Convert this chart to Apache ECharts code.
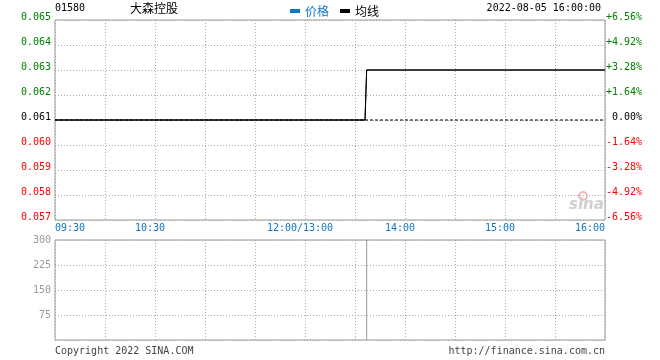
<!DOCTYPE html>
<html>
<head>
<meta charset="utf-8">
<script src="https://cdn.jsdelivr.net/npm/echarts@6/dist/echarts.min.js"></script>
<style>html,body{margin:0;padding:0;background:#fff}#c{width:660px;height:360px}</style>
</head>
<body>
<div id="c"></div>
<script>
// ---- data ----
const stockCode = '01580';
const stockName = '大森控股';
const stamp = '2022-08-05 16:00:00';
const prevClose = 0.061;
// minutes since 09:30 on a trading clock (lunch break removed)
const priceMinutes = [0, 186, 187, 330];
const priceValues = [0.061, 0.061, 0.063, 0.063];
const avgValues = [0.061, 0.061, 0.063, 0.063];
const refMinutes = [0, 330];
const refValues = [prevClose, prevClose];
const volMinutes = [187];
const volValues = [300];
// tick labels
const xTickMinutes = [0, 60, 150, 210, 270, 330];
const xTickLabels = ['09:30', '10:30', '12:00/13:00', '14:00', '15:00', '16:00'];
const priceTickLabels = ['0.057', '0.058', '0.059', '0.060', '0.061', '0.062', '0.063', '0.064', '0.065'];
const pctTickLabels = ['-6.56%', '-4.92%', '-3.28%', '-1.64%', '0.00%', '+1.64%', '+3.28%', '+4.92%', '+6.56%'];
const tickTone = ['r', 'r', 'r', 'r', 'k', 'g', 'g', 'g', 'g'];

const MONO = 'DejaVu Sans Mono';
const CJK = 'Noto Sans CJK SC';
const BLUE = '#0f76c6';
const GREEN = '#008000';
const RED = '#ff0000';
const GRIDC = '#aaaaaa';
const BORDER = '#999999';

const chart = echarts.init(document.getElementById('c'), null, {renderer: 'canvas'});

function pairs(xs, ys) { return xs.map((x, i) => [x, ys[i]]); }
function yIndex(v) { return Math.round((v - 0.057) * 1000); }

const toneRich = {
  g: {color: GREEN, fontFamily: MONO, fontSize: 10},
  k: {color: '#000', fontFamily: MONO, fontSize: 10},
  r: {color: RED, fontFamily: MONO, fontSize: 10}
};

const option = {
  animation: false,
  backgroundColor: '#fff',
  grid: [
    {left: 55, right: 55, top: 20, height: 200, show: true, borderColor: BORDER, borderWidth: 1, backgroundColor: 'transparent'},
    {left: 55, right: 55, top: 240, height: 100, show: true, borderColor: BORDER, borderWidth: 1, backgroundColor: 'transparent'}
  ],
  legend: {
    left: 285, top: 0, icon: 'rect', itemWidth: 10, itemHeight: 4, itemGap: 11,
    textStyle: {fontFamily: CJK, fontSize: 12},
    data: [
      {name: '价格', textStyle: {color: BLUE}, itemStyle: {color: BLUE}},
      {name: '均线', textStyle: {color: '#000'}, itemStyle: {color: '#000'}}
    ]
  },
  xAxis: [
    {
      type: 'value', gridIndex: 0, min: 0, max: 330, interval: 30,
      axisLine: {show: false}, axisTick: {show: false},
      splitLine: {show: true, lineStyle: {color: GRIDC, type: [1, 2], width: 1}},
      axisLabel: {
        show: true, margin: 3, showMinLabel: true, showMaxLabel: true,
        alignMinLabel: 'left', alignMaxLabel: 'right',
        formatter: function (v) {
          const i = xTickMinutes.indexOf(Math.round(v));
          if (i < 0) return '';
          if (i === 0 || i === xTickMinutes.length - 1) return '{e|' + xTickLabels[i] + '}';
          return '{c|' + xTickLabels[i] + '}';
        },
        rich: {
          e: {color: BLUE, fontFamily: MONO, fontSize: 10},
          c: {color: BLUE, fontFamily: MONO, fontSize: 10, padding: [0, 10, 0, 0]}
        }
      }
    },
    {
      type: 'value', gridIndex: 1, min: 0, max: 330, interval: 30,
      axisLine: {show: false}, axisTick: {show: false}, axisLabel: {show: false},
      splitLine: {show: true, lineStyle: {color: GRIDC, type: [1, 2], width: 1}}
    }
  ],
  yAxis: [
    {
      type: 'value', gridIndex: 0, min: 0.057, max: 0.065, interval: 0.001,
      axisLine: {show: false}, axisTick: {show: false},
      splitLine: {show: true, lineStyle: {color: GRIDC, type: [1, 2], width: 1}},
      axisLabel: {
        margin: 4, padding: [0, 0, 5, 0],
        formatter: function (v) { const i = yIndex(v); return '{' + tickTone[i] + '|' + priceTickLabels[i] + '}'; },
        rich: toneRich
      }
    },
    {
      type: 'value', gridIndex: 0, position: 'right', min: 0.057, max: 0.065, interval: 0.001,
      axisLine: {show: false}, axisTick: {show: false}, splitLine: {show: false},
      axisLabel: {
        margin: 37, align: 'right', padding: [0, 0, 5, 0],
        formatter: function (v) { const i = yIndex(v); return '{' + tickTone[i] + '|' + pctTickLabels[i] + '}'; },
        rich: toneRich
      }
    },
    {
      type: 'value', gridIndex: 1, min: 0, max: 300, interval: 75,
      axisLine: {show: false}, axisTick: {show: false},
      splitLine: {show: true, lineStyle: {color: GRIDC, type: [1, 2], width: 1}},
      axisLabel: {
        margin: 4, padding: [0, 0, 5, 0], showMinLabel: false,
        color: '#999', fontFamily: MONO, fontSize: 10
      }
    }
  ],
  series: [
    {
      name: '昨收', type: 'line', xAxisIndex: 0, yAxisIndex: 0,
      data: pairs(refMinutes, refValues), showSymbol: false, symbol: 'none', silent: true,
      color: '#000', lineStyle: {width: 1, color: '#000', type: [3, 2]}, z: 1
    },
    {
      name: '价格', type: 'line', xAxisIndex: 0, yAxisIndex: 0,
      data: pairs(priceMinutes, priceValues), showSymbol: false, symbol: 'none',
      color: BLUE, lineStyle: {width: 1, color: '#000'}, z: 2
    },
    {
      name: '均线', type: 'line', xAxisIndex: 0, yAxisIndex: 0,
      data: pairs(priceMinutes, avgValues), showSymbol: false, symbol: 'none',
      color: '#000', lineStyle: {width: 1, color: '#000'}, z: 3
    },
    {
      name: '成交量', type: 'bar', xAxisIndex: 1, yAxisIndex: 2,
      data: pairs(volMinutes, volValues), barWidth: 1,
      itemStyle: {color: '#999'}
    }
  ],
  graphic: [
    {type: 'text', left: 55, top: 3, style: {text: stockCode, font: '10px "' + MONO + '"', fill: '#000'}},
    {type: 'text', left: 130, top: 2, style: {text: stockName, font: '12px "' + CJK + '"', fill: '#000'}},
    {type: 'text', right: 59, top: 3, style: {text: stamp, font: '10px "' + MONO + '"', fill: '#000'}},
    {type: 'text', left: 55, top: 346, style: {text: 'Copyright 2022 SINA.COM', font: '10px "' + MONO + '"', fill: '#444'}},
    {type: 'text', right: 55, top: 346, style: {text: 'http://finance.sina.com.cn', font: '10px "' + MONO + '"', fill: '#444'}},
    {type: 'circle', shape: {cx: 583, cy: 196, r: 4}, style: {fill: 'none', stroke: '#f5b8b8', lineWidth: 2}, z: 1},
    {type: 'text', left: 569, top: 198, style: {text: 'sina', font: 'italic bold 15px "DejaVu Sans"', fill: '#cfcfcf'}, z: 1}
  ]
};
chart.setOption(option);
</script>
</body>
</html>
